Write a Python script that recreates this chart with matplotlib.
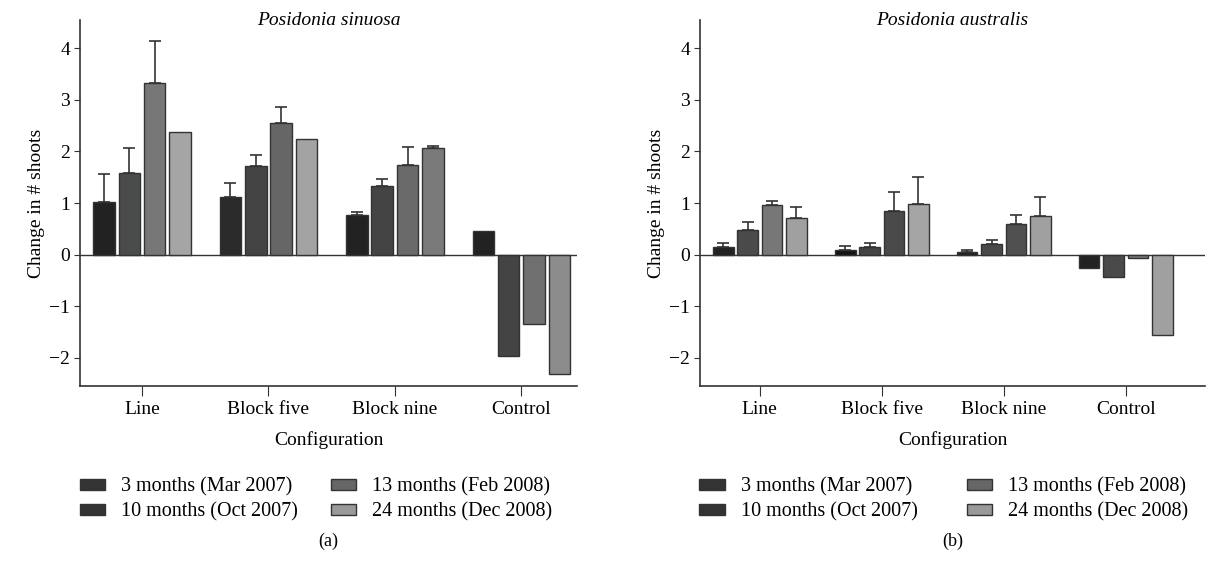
import numpy as np
import matplotlib.pyplot as plt
from matplotlib.patches import Patch

plt.rcParams['font.family'] = ['Liberation Serif', 'DejaVu Serif']

configs = ["Line", "Block five", "Block nine", "Control"]
periods = ["3 months (Mar 2007)", "10 months (Oct 2007)",
           "13 months (Feb 2008)", "24 months (Dec 2008)"]

# Posidonia sinuosa: rows = periods, cols = configurations
sinuosa = [[1.02, 1.11, 0.77, 0.45],
           [1.58, 1.71, 1.33, -1.96],
           [3.33, 2.55, 1.73, -1.34],
           [2.38, 2.24, 2.06, -2.31]]
sinuosa_err = [[0.55, 0.28, 0.06, 0.0],
               [0.48, 0.22, 0.13, 0.0],
               [0.82, 0.31, 0.35, 0.0],
               [0.0, 0.0, 0.05, 0.0]]

# Posidonia australis
australis = [[0.15, 0.09, 0.045, -0.26],
             [0.47, 0.15, 0.20, -0.43],
             [0.96, 0.84, 0.59, -0.06],
             [0.71, 0.99, 0.74, -1.56]]
australis_err = [[0.08, 0.07, 0.045, 0.0],
                 [0.16, 0.07, 0.09, 0.0],
                 [0.08, 0.37, 0.17, 0.0],
                 [0.22, 0.51, 0.37, 0.0]]

# bar fill colours (period x configuration), as printed
sinuosa_colors = [["#222222", "#2a2a2a", "#222222", "#222222"],
                  ["#4a4c4b", "#444444", "#444444", "#444444"],
                  ["#777777", "#666666", "#6a6a6a", "#707070"],
                  ["#a5a5a5", "#a3a3a3", "#7a7a7a", "#8c8c8c"]]
australis_colors = [["#222222", "#151515", "#222222", "#222222"],
                    ["#4a4a4a", "#444444", "#4a4a4a", "#4a4a4a"],
                    ["#777777", "#4a4a4a", "#505050", "#777777"],
                    ["#a0a0a0", "#a5a5a5", "#a0a0a0", "#a0a0a0"]]
legend_colors = ["#333333", "#333333", "#666666", "#999999"]


def draw_panel(ax, values, errs, colors, title, xmax):
    x = np.arange(len(configs))
    width = 0.17
    for i in range(len(periods)):
        pos = x + (i - 1.5) * 0.2
        ax.bar(pos, values[i], width, color=colors[i], edgecolor="#333333",
               linewidth=1.0, zorder=2)
        for p, v, e in zip(pos, values[i], errs[i]):
            if e > 0:
                ax.errorbar(p, v, yerr=[[0], [e]], fmt="none", ecolor="#333333",
                            elinewidth=1.2, capsize=4, capthick=1.2, zorder=3)
    ax.axhline(0, color="#333333", linewidth=1.0, zorder=1)
    ax.set_xlim(-0.49, xmax)
    ax.set_ylim(-2.55, 4.55)
    ax.set_yticks([-2, -1, 0, 1, 2, 3, 4])
    ax.set_yticklabels(["\u22122", "\u22121", "0", "1", "2", "3", "4"])
    ax.set_xticks(x)
    ax.set_xticklabels(configs)
    for s in ["top", "right"]:
        ax.spines[s].set_visible(False)
    for s in ["left", "bottom"]:
        ax.spines[s].set_color("#333333")
        ax.spines[s].set_linewidth(1.2)
    ax.tick_params(axis="y", length=4, labelsize=14, color="#333333", pad=3)
    ax.tick_params(axis="x", length=7, labelsize=14, color="#333333", pad=4)
    ax.set_xlabel("Configuration", fontsize=14, labelpad=9)
    ax.set_ylabel("Change in # shoots", fontsize=14, labelpad=3)
    ax.text(0.5, 1.0, title, transform=ax.transAxes, ha="center", va="center",
            fontsize=14, style="italic")


fig = plt.figure(figsize=(12.18, 5.63), dpi=100)
ax1 = fig.add_axes([0.0657, 0.3144, 0.408, 0.65])
ax2 = fig.add_axes([0.5747, 0.3144, 0.4146, 0.65])

draw_panel(ax1, sinuosa, sinuosa_err, sinuosa_colors, "Posidonia sinuosa", 3.44)
draw_panel(ax2, australis, australis_err, australis_colors, "Posidonia australis", 3.65)

handles = [Patch(facecolor=c, edgecolor="#333333", linewidth=1.0) for c in legend_colors]
for ax, tag, colsp in [(ax1, "(a)", 1.65), (ax2, "(b)", 2.45)]:
    ax.legend(handles, periods, ncol=2, loc="upper left",
              bbox_to_anchor=(-0.017, -0.228), frameon=False, fontsize=14.5,
              handlelength=1.25, handleheight=0.5, handletextpad=0.8,
              columnspacing=colsp, labelspacing=0.27, borderaxespad=0)
    pos = ax.get_position()
    fig.text(pos.x0 + pos.width / 2, 0.039, tag, ha="center", va="center",
             fontsize=13)

fig.savefig("out.png", dpi=100)
